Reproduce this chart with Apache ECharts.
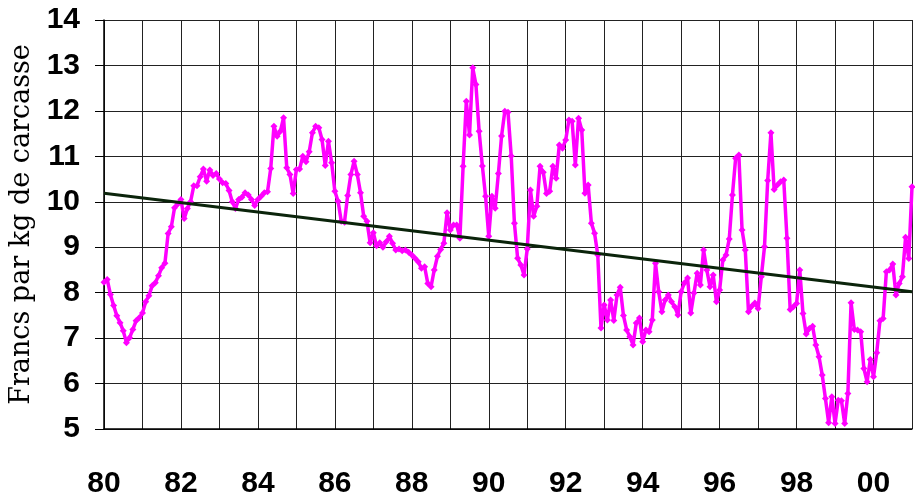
<!DOCTYPE html>
<html>
<head>
<meta charset="utf-8">
<script src="https://cdn.jsdelivr.net/npm/echarts@6/dist/echarts.min.js"></script>
<style>
html,body{margin:0;padding:0;background:#fff;}
#chart{width:915px;height:504px;}
</style>
</head>
<body>
<div id="chart"></div>
<script>
// Monthly price series, starting January 1980 (francs per kg of carcass)
const startYear = 1980;
const monthlyPrice = [
  8.23, 8.29, 7.96, 7.72, 7.49, 7.34, 7.16, 6.90, 7.01, 7.19, 7.38, 7.45,
  7.55, 7.80, 7.93, 8.15, 8.22, 8.37, 8.55, 8.65, 9.30, 9.45, 9.87, 9.95,
  10.05, 9.63, 9.85, 10.00, 10.35, 10.35, 10.55, 10.72, 10.45, 10.70, 10.58, 10.62,
  10.50, 10.42, 10.40, 10.25, 10.00, 9.85, 10.05, 10.10, 10.20, 10.15, 10.05, 9.92,
  10.05, 10.12, 10.20, 10.22, 10.73, 11.66, 11.44, 11.55, 11.85, 10.75, 10.60, 10.18,
  10.71, 10.72, 11.00, 10.88, 11.10, 11.52, 11.66, 11.63, 11.37, 10.80, 11.33, 10.86,
  10.23, 10.01, 9.57, 9.55, 10.14, 10.60, 10.89, 10.60, 10.20, 9.68, 9.57, 9.10,
  9.32, 9.03, 9.10, 9.00, 9.12, 9.24, 9.09, 8.94, 8.96, 8.92, 8.94, 8.89,
  8.83, 8.76, 8.68, 8.54, 8.57, 8.20, 8.13, 8.50, 8.80, 8.95, 9.09, 9.76,
  9.38, 9.49, 9.49, 9.20, 10.78, 12.21, 11.47, 12.95, 12.58, 11.55, 10.79, 10.12,
  9.24, 10.12, 9.86, 10.62, 11.45, 11.99, 11.97, 11.01, 9.53, 8.76, 8.61, 8.39,
  8.96, 10.26, 9.68, 9.90, 10.78, 10.65, 10.18, 10.23, 10.78, 10.52, 11.25, 11.18,
  11.36, 11.80, 11.77, 10.81, 11.84, 11.58, 10.19, 10.37, 9.53, 9.31, 8.83, 7.22,
  7.73, 7.40, 7.84, 7.39, 7.95, 8.12, 7.50, 7.18, 7.03, 6.85, 7.33, 7.44,
  6.92, 7.18, 7.14, 7.40, 8.65, 8.02, 7.58, 7.84, 7.95, 7.80, 7.69, 7.51,
  8.02, 8.21, 8.32, 7.55, 7.99, 8.43, 8.17, 8.94, 8.50, 8.13, 8.39, 7.80,
  8.06, 8.72, 8.83, 9.18, 10.15, 10.96, 11.03, 9.38, 8.94, 7.58, 7.70, 7.77,
  7.65, 8.35, 9.01, 10.47, 11.52, 10.27, 10.37, 10.44, 10.48, 9.20, 7.63, 7.69,
  7.76, 8.50, 7.54, 7.09, 7.21, 7.26, 6.85, 6.59, 6.19, 5.67, 5.14, 5.71,
  5.12, 5.63, 5.62, 5.12, 5.78, 7.78, 7.19, 7.18, 7.14, 6.33, 6.04, 6.53,
  6.15, 6.68, 7.38, 7.43, 8.46, 8.50, 8.63, 7.95, 8.20, 8.35, 9.22, 8.75,
  10.33
];
// Linear trend end points
const trendYears = [1980, 2001];
const trendValues = [10.19, 8.02];

const priceData = monthlyPrice.map((v, i) => [startYear + i / 12, v]);
const trendData = trendYears.map((y, i) => [y, trendValues[i]]);

const chart = echarts.init(document.getElementById('chart'));
chart.setOption({
  animation: false,
  backgroundColor: '#ffffff',
  grid: { left: 104, right: 2, top: 20, bottom: 75, containLabel: false },
  xAxis: {
    type: 'value', min: 1980, max: 2001, interval: 1,
    axisLine: { show: true, onZero: false, lineStyle: { color: '#000', width: 1.5 } },
    axisTick: { show: false },
    splitLine: { show: true, lineStyle: { color: '#222', width: 1 } },
    axisLabel: {
      margin: 40,
      fontFamily: 'Liberation Sans, Arial, sans-serif',
      fontWeight: 'bold', fontSize: 30, color: '#000',
      formatter: v => (v % 2 === 0 ? String(v % 100).padStart(2, '0') : '')
    }
  },
  yAxis: {
    type: 'value', min: 5, max: 14, interval: 1,
    name: 'Francs par kg de carcasse',
    nameLocation: 'middle', nameRotate: 90, nameGap: 62,
    nameTextStyle: { fontFamily: 'DejaVu Serif, serif', fontSize: 27, color: '#000' },
    axisLine: { show: true, lineStyle: { color: '#000', width: 1.5 } },
    axisTick: { show: true, inside: false, length: 9, lineStyle: { color: '#000', width: 1 } },
    splitLine: { show: true, lineStyle: { color: '#222', width: 1 } },
    axisLabel: {
      margin: 24,
      fontFamily: 'Liberation Sans, Arial, sans-serif',
      fontWeight: 'bold', fontSize: 30, color: '#000'
    }
  },
  series: [
    {
      type: 'line', data: priceData,
      lineStyle: { color: '#ff00ff', width: 3.5 },
      itemStyle: { color: '#ff00ff' },
      symbol: 'diamond', symbolSize: 7, showSymbol: true,
      z: 2
    },
    {
      type: 'line', data: trendData,
      lineStyle: { color: '#0b240b', width: 3 },
      symbol: 'none',
      z: 3
    }
  ]
});
</script>
</body>
</html>
